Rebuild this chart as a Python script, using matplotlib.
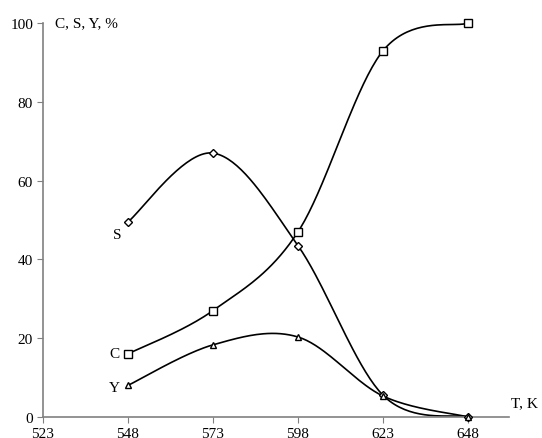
import numpy as np
import matplotlib.pyplot as plt

plt.rcParams['font.family'] = ['Liberation Serif', 'DejaVu Serif']

T = [548, 573, 598, 623, 648]
C = [16, 27, 47, 93, 100]
S = [49.5, 67, 43.5, 5.5, 0]
Y = [8, 18.3, 20.3, 5.3, 0]
xticks = [523, 548, 573, 598, 623, 648]
yticks = [0, 20, 40, 60, 80, 100]


def smooth(x, y, n=40):
    # excel-like bezier smoothing through the points
    x = np.asarray(x, float)
    y = np.asarray(y, float)
    xs, ys = [], []
    for i in range(len(x) - 1):
        x0, y0 = (x[i - 1], y[i - 1]) if i > 0 else (x[i], y[i])
        x3, y3 = (x[i + 2], y[i + 2]) if i + 2 < len(x) else (x[i + 1], y[i + 1])
        c1x = x[i] + (x[i + 1] - x0) / 6
        c1y = y[i] + (y[i + 1] - y0) / 6
        c2x = x[i + 1] - (x3 - x[i]) / 6
        c2y = y[i + 1] - (y3 - y[i]) / 6
        t = np.linspace(0, 1, n)
        a = (1 - t) ** 3
        b = 3 * (1 - t) ** 2 * t
        c = 3 * (1 - t) * t ** 2
        d = t ** 3
        xs.append(a * x[i] + b * c1x + c * c2x + d * x[i + 1])
        ys.append(a * y[i] + b * c1y + c * c2y + d * y[i + 1])
    return np.concatenate(xs), np.concatenate(ys)


fig = plt.figure(figsize=(5.42, 4.39), dpi=100)
ax = fig.add_axes([0.079, 0.048, 0.86, 0.897])

for yy, m, ms in [(C, 's', 6), (S, 'D', 4), (Y, '^', 5)]:
    sx, sy = smooth(T, yy)
    ax.plot(sx, sy, color='black', lw=1.2, clip_on=False, zorder=2)
    ax.plot(T, yy, ls='none', marker=m, ms=ms, mfc='white', mec='black',
            mew=1.0, clip_on=False, zorder=3)

ax.set_xlim(523, 660)
ax.set_ylim(0, 100)
ax.set_xticks(xticks)
ax.set_yticks(yticks)
for s in ['top', 'right']:
    ax.spines[s].set_visible(False)
for s in ['left', 'bottom']:
    ax.spines[s].set_color('#808080')
    ax.spines[s].set_linewidth(1.2)
ax.tick_params(direction='out', length=4, color='#808080', labelsize=11, pad=3)

ax.text(0.026, 1.0, 'C, S, Y, %', transform=ax.transAxes, fontsize=11,
        ha='left', va='center')
ax.text(1.005, 0.035, 'T, K', transform=ax.transAxes, fontsize=11,
        ha='left', va='center')
ax.text(546, 46.4, 'S', fontsize=11, ha='right', va='center')
ax.text(545.6, 16, 'C', fontsize=11, ha='right', va='center')
ax.text(545.6, 7.6, 'Y', fontsize=11, ha='right', va='center')

fig.savefig('out.png', dpi=100)
